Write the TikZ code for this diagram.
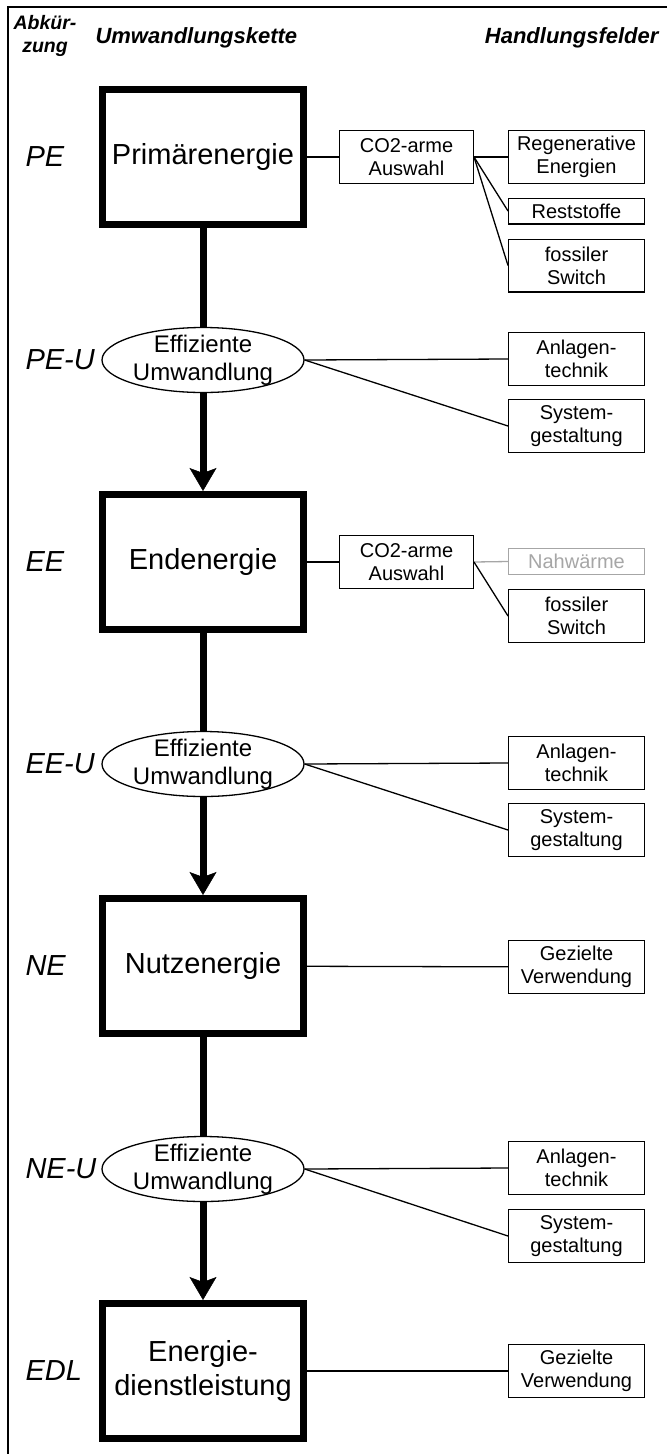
\documentclass[tikz,border=0pt]{standalone}
\usepackage{fontspec}
\setmainfont{Liberation Sans}
\usetikzlibrary{shapes.geometric,arrows.meta,backgrounds}
\definecolor{faded}{RGB}{166,166,166}

\begin{document}
\begin{tikzpicture}[x=1pt,y=-1pt,
  stage/.style={draw, line width=7pt, minimum width=201pt, minimum height=135pt, inner sep=0pt, align=center, font=\fontsize{29}{34}\selectfont},
  conv/.style={draw, ellipse, line width=1.3pt, fill=white, minimum width=202pt, minimum height=65pt, inner sep=0pt},
  convtext/.style={align=center, font=\fontsize{24}{28}\selectfont},
  field/.style={draw, line width=1.3pt, minimum width=135.7pt, minimum height=52.7pt, inner sep=0pt, align=center, font=\fontsize{20}{23}\selectfont},
  abbr/.style={anchor=west, font=\fontsize{29}{34}\selectfont\itshape},
  head/.style={font=\fontsize{22}{25}\selectfont\bfseries\itshape},
  link/.style={line width=1.3pt},
  flow/.style={line width=7pt, -{Stealth[length=23pt, width=27pt, inset=5pt, line width=0.5pt]}}
]
\useasboundingbox (0,0) rectangle (667,1454);
\draw[line width=2.5pt] (8,1454) -- (8,7) -- (667,7);

% Kopfzeile
\node[align=center, font=\fontsize{19.5}{23}\selectfont\bfseries\itshape] (abkhead) at (45,36) {Abkür-\\zung};
\node[head, anchor=west] (chainhead) at (92,38) {Umwandlungskette};
\node[head, anchor=east] (fieldhead) at (662,38) {Handlungsfelder};

% Umwandlungskette
\node[stage] (pe) at (203,157) {Primärenergie};
\node[conv] (peu) at (203,360) {};
\node[convtext] (peutext) at (203,360) {Effiziente\\Umwandlung};
\node[stage] (ee) at (203,562) {Endenergie};
\node[conv] (eeu) at (203,764) {};
\node[convtext] (eeutext) at (203,764) {Effiziente\\Umwandlung};
\node[stage] (ne) at (203,966) {Nutzenergie};
\node[conv] (neu) at (203,1169) {};
\node[convtext] (neutext) at (203,1169) {Effiziente\\Umwandlung};
\node[stage] (edl) at (203,1371) {Energie-\\dienstleistung};

% Abkuerzungen
\node[abbr] (pelabel) at (22,157) {PE};
\node[abbr] (peulabel) at (22,360) {PE-U};
\node[abbr] (eelabel) at (22,562) {EE};
\node[abbr] (eeulabel) at (22,764) {EE-U};
\node[abbr] (nelabel) at (22,966) {NE};
\node[abbr] (neulabel) at (22,1169) {NE-U};
\node[abbr] (edllabel) at (22,1371) {EDL};

% Handlungsfelder
\node[field, minimum width=133.7pt] (peco2) at (406.5,157) {CO2-arme\\Auswahl};
\node[field] (peregen) at (576.5,157) {Regenerative\\Energien};
\node[field, minimum height=25.7pt] (perest) at (576.5,211) {Reststoffe};
\node[field] (pefoss) at (576.5,265.5) {fossiler\\Switch};
\node[field] (peuanl) at (576.5,359) {Anlagen-\\technik};
\node[field] (peusys) at (576.5,426) {System-\\gestaltung};
\node[field, minimum width=133.7pt] (eeco2) at (406.5,562) {CO2-arme\\Auswahl};
\node[field, minimum height=25.7pt, draw=faded, text=faded] (eenah) at (576.5,561.5) {Nahwärme};
\node[field] (eefoss) at (576.5,616) {fossiler\\Switch};
\node[field] (eeuanl) at (576.5,763) {Anlagen-\\technik};
\node[field] (eeusys) at (576.5,830) {System-\\gestaltung};
\node[field] (neziel) at (576.5,967) {Gezielte\\Verwendung};
\node[field] (neuanl) at (576.5,1168) {Anlagen-\\technik};
\node[field] (neusys) at (576.5,1236) {System-\\gestaltung};
\node[field] (edlziel) at (576.5,1371) {Gezielte\\Verwendung};

\begin{scope}[on background layer]
\draw[flow] (pe) -- (ee);
\draw[flow] (ee) -- (ne);
\draw[flow] (ne) -- (edl);
\end{scope}

\draw[link] (pe) -- (peco2);
\draw[link] (peco2.east) -- (peregen.west);
\draw[link] (peco2.east) -- (perest.west);
\draw[link] (peco2.east) -- (pefoss.west);
\draw[link] (peu.east) -- (peuanl.west);
\draw[link] (peu.east) -- (peusys.west);
\draw[link] (ee) -- (eeco2);
\draw[link, draw=faded] (eeco2.east) -- (eenah.west);
\draw[link] (eeco2.east) -- (eefoss.west);
\draw[link] (eeu.east) -- (eeuanl.west);
\draw[link] (eeu.east) -- (eeusys.west);
\draw[link] (ne) -- (neziel);
\draw[link] (neu.east) -- (neuanl.west);
\draw[link] (neu.east) -- (neusys.west);
\draw[link] (edl) -- (edlziel);
\end{tikzpicture}
\end{document}
